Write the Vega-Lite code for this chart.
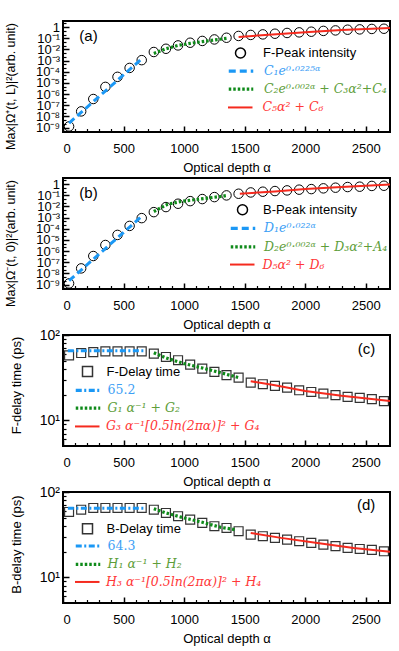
{
  "$schema": "https://vega.github.io/schema/vega-lite/v6.json",
  "background": "white",
  "padding": {"left": 3, "top": 20, "right": 0, "bottom": 0},
  "config": {
    "font": "Liberation Sans",
    "view": {"stroke": "black", "strokeWidth": 2},
    "axis": {"grid": false, "domain": false, "tickColor": "black", "labelColor": "black", "titleColor": "black", "labelFont": "Liberation Sans", "titleFont": "Liberation Sans", "titleFontWeight": "normal", "labelOverlap": false},
    "legend": {"title": null, "orient": "none", "padding": 0, "symbolSize": 100, "labelFontSize": 13}
  },
  "datasets": {
    "a": [
      {"x": 50, "y": 1.26e-9, "s": "p"}, {"x": 150, "y": 2.8e-8, "s": "p"}, {"x": 250, "y": 3.6e-7, "s": "p"}, {"x": 350, "y": 4.4e-6, "s": "p"}, {"x": 450, "y": 3.5e-5, "s": "p"}, {"x": 550, "y": 2.2e-4, "s": "p"}, {"x": 650, "y": 1.1e-3, "s": "p"}, {"x": 750, "y": 5.9e-3, "s": "p"}, {"x": 850, "y": 1.15e-2, "s": "p"}, {"x": 950, "y": 2.3e-2, "s": "p"}, {"x": 1050, "y": 4.0e-2, "s": "p"}, {"x": 1150, "y": 5.8e-2, "s": "p"}, {"x": 1250, "y": 7.9e-2, "s": "p"}, {"x": 1350, "y": 0.112, "s": "p"}, {"x": 1450, "y": 0.162, "s": "p"}, {"x": 1550, "y": 0.2, "s": "p"}, {"x": 1650, "y": 0.224, "s": "p"}, {"x": 1750, "y": 0.257, "s": "p"}, {"x": 1850, "y": 0.3, "s": "p"}, {"x": 1950, "y": 0.34, "s": "p"}, {"x": 2050, "y": 0.39, "s": "p"}, {"x": 2150, "y": 0.46, "s": "p"}, {"x": 2250, "y": 0.51, "s": "p"}, {"x": 2350, "y": 0.59, "s": "p"}, {"x": 2450, "y": 0.63, "s": "p"}, {"x": 2550, "y": 0.69, "s": "p"}, {"x": 2650, "y": 0.72, "s": "p"},
      {"x": 50, "y": 2.5e-9, "s": "f1"}, {"x": 660, "y": 1.8e-3, "s": "f1"},
      {"x": 750, "y": 4.4e-3, "s": "f2"}, {"x": 850, "y": 1.15e-2, "s": "f2"}, {"x": 950, "y": 2.3e-2, "s": "f2"}, {"x": 1050, "y": 3.5e-2, "s": "f2"}, {"x": 1150, "y": 5.0e-2, "s": "f2"}, {"x": 1250, "y": 7.1e-2, "s": "f2"}, {"x": 1350, "y": 9.8e-2, "s": "f2"},
      {"x": 1450, "y": 0.132, "s": "f3"}, {"x": 1700, "y": 0.21, "s": "f3"}, {"x": 2000, "y": 0.355, "s": "f3"}, {"x": 2300, "y": 0.56, "s": "f3"}, {"x": 2700, "y": 0.85, "s": "f3"}
    ],
    "b": [
      {"x": 50, "y": 1.26e-9, "s": "p"}, {"x": 150, "y": 2.8e-8, "s": "p"}, {"x": 250, "y": 3.6e-7, "s": "p"}, {"x": 350, "y": 3.5e-6, "s": "p"}, {"x": 450, "y": 2.8e-5, "s": "p"}, {"x": 550, "y": 1.8e-4, "s": "p"}, {"x": 650, "y": 9.0e-4, "s": "p"}, {"x": 750, "y": 3.1e-3, "s": "p"}, {"x": 850, "y": 8.8e-3, "s": "p"}, {"x": 950, "y": 1.75e-2, "s": "p"}, {"x": 1050, "y": 3.0e-2, "s": "p"}, {"x": 1150, "y": 4.6e-2, "s": "p"}, {"x": 1250, "y": 6.9e-2, "s": "p"}, {"x": 1350, "y": 9.8e-2, "s": "p"}, {"x": 1450, "y": 0.138, "s": "p"}, {"x": 1550, "y": 0.18, "s": "p"}, {"x": 1650, "y": 0.21, "s": "p"}, {"x": 1750, "y": 0.24, "s": "p"}, {"x": 1850, "y": 0.275, "s": "p"}, {"x": 1950, "y": 0.32, "s": "p"}, {"x": 2050, "y": 0.36, "s": "p"}, {"x": 2150, "y": 0.42, "s": "p"}, {"x": 2250, "y": 0.48, "s": "p"}, {"x": 2350, "y": 0.55, "s": "p"}, {"x": 2450, "y": 0.59, "s": "p"}, {"x": 2550, "y": 0.69, "s": "p"}, {"x": 2650, "y": 0.72, "s": "p"},
      {"x": 50, "y": 2.2e-9, "s": "f1"}, {"x": 655, "y": 1.45e-3, "s": "f1"},
      {"x": 750, "y": 3.5e-3, "s": "f2"}, {"x": 865, "y": 1.6e-2, "s": "f2"}, {"x": 975, "y": 2.8e-2, "s": "f2"}, {"x": 1085, "y": 4.0e-2, "s": "f2"}, {"x": 1195, "y": 5.6e-2, "s": "f2"}, {"x": 1305, "y": 7.9e-2, "s": "f2"}, {"x": 1360, "y": 9.8e-2, "s": "f2"},
      {"x": 1460, "y": 0.138, "s": "f3"}, {"x": 1750, "y": 0.22, "s": "f3"}, {"x": 2000, "y": 0.36, "s": "f3"}, {"x": 2300, "y": 0.55, "s": "f3"}, {"x": 2700, "y": 0.95, "s": "f3"}
    ],
    "c": [
      {"x": 50, "y": 57.8, "s": "p"}, {"x": 150, "y": 61.5, "s": "p"}, {"x": 250, "y": 63, "s": "p"}, {"x": 350, "y": 64.4, "s": "p"}, {"x": 450, "y": 64.4, "s": "p"}, {"x": 550, "y": 64.4, "s": "p"}, {"x": 650, "y": 64.4, "s": "p"}, {"x": 750, "y": 60.5, "s": "p"}, {"x": 850, "y": 55.3, "s": "p"}, {"x": 950, "y": 50.6, "s": "p"}, {"x": 1050, "y": 45, "s": "p"}, {"x": 1150, "y": 40.4, "s": "p"}, {"x": 1250, "y": 37, "s": "p"}, {"x": 1350, "y": 33.8, "s": "p"}, {"x": 1450, "y": 31.7, "s": "p"}, {"x": 1550, "y": 27.7, "s": "p"}, {"x": 1650, "y": 26.5, "s": "p"}, {"x": 1750, "y": 25.3, "s": "p"}, {"x": 1850, "y": 24.2, "s": "p"}, {"x": 1950, "y": 22.5, "s": "p"}, {"x": 2050, "y": 21.5, "s": "p"}, {"x": 2150, "y": 20.6, "s": "p"}, {"x": 2250, "y": 19.7, "s": "p"}, {"x": 2350, "y": 18.8, "s": "p"}, {"x": 2450, "y": 18.3, "s": "p"}, {"x": 2550, "y": 17.7, "s": "p"}, {"x": 2650, "y": 16.8, "s": "p"},
      {"x": 40, "y": 65.2, "s": "f1"}, {"x": 670, "y": 65.2, "s": "f1"},
      {"x": 750, "y": 62, "s": "f2"}, {"x": 850, "y": 53.8, "s": "f2"}, {"x": 1000, "y": 46.2, "s": "f2"}, {"x": 1150, "y": 41.1, "s": "f2"}, {"x": 1300, "y": 36.2, "s": "f2"}, {"x": 1460, "y": 31.4, "s": "f2"},
      {"x": 1550, "y": 28.7, "s": "f3"}, {"x": 1750, "y": 25.8, "s": "f3"}, {"x": 2000, "y": 22.1, "s": "f3"}, {"x": 2300, "y": 19.4, "s": "f3"}, {"x": 2700, "y": 16.8, "s": "f3"}
    ],
    "d": [
      {"x": 50, "y": 58.3, "s": "p"}, {"x": 150, "y": 62, "s": "p"}, {"x": 250, "y": 65, "s": "p"}, {"x": 350, "y": 65, "s": "p"}, {"x": 450, "y": 65, "s": "p"}, {"x": 550, "y": 65, "s": "p"}, {"x": 650, "y": 65, "s": "p"}, {"x": 750, "y": 62, "s": "p"}, {"x": 850, "y": 56.8, "s": "p"}, {"x": 950, "y": 52, "s": "p"}, {"x": 1050, "y": 47.5, "s": "p"}, {"x": 1150, "y": 43.4, "s": "p"}, {"x": 1250, "y": 39.7, "s": "p"}, {"x": 1350, "y": 37.9, "s": "p"}, {"x": 1450, "y": 34.7, "s": "p"}, {"x": 1550, "y": 31.7, "s": "p"}, {"x": 1650, "y": 30.3, "s": "p"}, {"x": 1750, "y": 29, "s": "p"}, {"x": 1850, "y": 27.7, "s": "p"}, {"x": 1950, "y": 26.5, "s": "p"}, {"x": 2050, "y": 25.3, "s": "p"}, {"x": 2150, "y": 24.2, "s": "p"}, {"x": 2250, "y": 23.2, "s": "p"}, {"x": 2350, "y": 22.1, "s": "p"}, {"x": 2450, "y": 21.5, "s": "p"}, {"x": 2550, "y": 21, "s": "p"}, {"x": 2650, "y": 20.2, "s": "p"},
      {"x": 40, "y": 64.3, "s": "f1"}, {"x": 670, "y": 64.3, "s": "f1"},
      {"x": 750, "y": 63.8, "s": "f2"}, {"x": 850, "y": 56.8, "s": "f2"}, {"x": 1000, "y": 49.7, "s": "f2"}, {"x": 1150, "y": 44.2, "s": "f2"}, {"x": 1300, "y": 38.6, "s": "f2"}, {"x": 1420, "y": 36.2, "s": "f2"},
      {"x": 1550, "y": 33.1, "s": "f3"}, {"x": 1800, "y": 29, "s": "f3"}, {"x": 2100, "y": 25.3, "s": "f3"}, {"x": 2400, "y": 22.1, "s": "f3"}, {"x": 2700, "y": 19.9, "s": "f3"}
    ]
  },
  "spacing": 46,
  "bounds": "flush",
  "resolve": {"scale": {"color": "independent", "strokeDash": "independent", "opacity": "independent", "strokeWidth": "independent"}, "legend": {"color": "independent", "strokeDash": "independent", "opacity": "independent", "strokeWidth": "independent"}},
  "vconcat": [
    {
      "width": 327, "height": 111,
      "data": {"name": "a"},
      "layer": [
        {
          "transform": [{"filter": "datum.s === 'p'"}],
          "mark": {"type": "point", "shape": "circle", "filled": false, "size": 90, "strokeWidth": 1, "opacity": 1},
          "encoding": {
            "x": {"field": "x", "type": "quantitative", "scale": {"domain": [0, 2700], "nice": false, "zero": false},
              "axis": {"orient": "bottom", "values": [0, 500, 1000, 1500, 2000, 2500], "format": "d", "tickSize": -6, "tickWidth": 1.5, "labelFontSize": 13, "labelPadding": 16, "title": "Optical depth  α", "titleFontSize": 13, "titlePadding": 6}},
            "y": {"field": "y", "type": "quantitative", "scale": {"type": "log", "domain": [3.98e-10, 3.55], "nice": false},
              "axis": {"orient": "left", "values": [1e-9, 1e-8, 1e-7, 1e-6, 1e-5, 1e-4, 1e-3, 1e-2, 1e-1, 1], "tickSize": -6, "tickWidth": 1.5, "labelFontSize": 13, "labelPadding": 9.5,
                "labelExpr": "['1','10⁻¹','10⁻²','10⁻³','10⁻⁴','10⁻⁵','10⁻⁶','10⁻⁷','10⁻⁸','10⁻⁹'][round(-log(datum.value)/LN10)]",
                "title": "Max|Ω⁺(t, L)|²(arb. unit)", "titleFontSize": 12.5, "titleX": -48.3, "titleY": 65, "titleAngle": 270, "titleAlign": "center", "titleBaseline": "alphabetic"}},
            "color": {"field": "s", "type": "nominal", "scale": {"domain": ["p"], "range": ["black"]},
              "legend": {"legendX": 171, "legendY": 25.5, "labelOffset": 16, "labelColor": "black", "labelExpr": "'F-Peak intensity'"}}
          }
        },
        {
          "transform": [{"filter": "datum.s === 'f1'"}],
          "mark": {"type": "line", "strokeWidth": 3, "color": "#1b98f5"},
          "encoding": {
            "x": {"field": "x", "type": "quantitative", "axis": {"orient": "bottom", "values": [100, 200, 300, 400, 600, 700, 800, 900, 1100, 1200, 1300, 1400, 1600, 1700, 1800, 1900, 2100, 2200, 2300, 2400, 2600], "tickSize": -3.5, "tickWidth": 1.2, "labels": false, "title": null}},
            "y": {"field": "y", "type": "quantitative", "axis": {"orient": "left", "values": [4.642e-10, 2.154e-9, 4.642e-9, 2.154e-8, 4.642e-8, 2.154e-7, 4.642e-7, 2.154e-6, 4.642e-6, 2.154e-5, 4.642e-5, 2.154e-4, 4.642e-4, 2.154e-3, 4.642e-3, 0.02154, 0.04642, 0.2154, 0.4642, 2.154], "tickSize": -3, "tickWidth": 1.2, "labels": false, "title": null}},
            "strokeDash": {"field": "s", "type": "nominal", "scale": {"domain": ["f1"], "range": [[7, 4]]},
              "legend": {"legendX": 171, "legendY": 43.2, "labelOffset": 16, "symbolType": "M-2.45,0H2.45", "symbolStrokeColor": "#1b98f5", "symbolStrokeWidth": 3.2, "labelColor": "#3da0f5", "labelFont": "DejaVu Serif", "labelFontStyle": "italic", "labelFontSize": 12.5, "labelExpr": "'C₁e⁰·⁰²²⁵ᵅ'"}}
          }
        },
        {
          "transform": [{"filter": "datum.s === 'f2'"}],
          "mark": {"type": "line", "strokeDash": [2.5, 2], "strokeWidth": 3.2, "color": "#0f8a1a"},
          "encoding": {
            "x": {"field": "x", "type": "quantitative", "axis": null},
            "y": {"field": "y", "type": "quantitative", "axis": null},
            "opacity": {"field": "s", "type": "nominal", "scale": {"type": "ordinal", "domain": ["f2"], "range": [1]},
              "legend": {"legendX": 171, "legendY": 61.2, "labelOffset": 16, "symbolType": "M-2.45,0H2.45", "symbolStrokeColor": "#0f8a1a", "symbolStrokeWidth": 3.2, "symbolDash": [2.5, 2], "labelColor": "#5e9e3a", "labelFont": "DejaVu Serif", "labelFontStyle": "italic", "labelFontSize": 12.5, "labelExpr": "'C₂e⁰·⁰⁰²ᵅ + C₃α²+C₄'"}}
          }
        },
        {
          "transform": [{"filter": "datum.s === 'f3'"}],
          "mark": {"type": "line", "color": "#f52a1e"},
          "encoding": {
            "x": {"field": "x", "type": "quantitative", "axis": null},
            "y": {"field": "y", "type": "quantitative", "axis": null},
            "strokeWidth": {"field": "s", "type": "nominal", "scale": {"type": "ordinal", "domain": ["f3"], "range": [2]},
              "legend": {"legendX": 171, "legendY": 80.2, "labelOffset": 16, "symbolType": "M-2.45,0H2.45", "symbolStrokeColor": "#f52a1e", "labelColor": "#ff3838", "labelFont": "DejaVu Serif", "labelFontStyle": "italic", "labelFontSize": 12.5, "labelExpr": "'C₅α² + C₆'"}}
          }
        },
        {
          "data": {"values": [{"t": "(a)"}]},
          "mark": {"type": "text", "align": "left", "baseline": "alphabetic", "fontSize": 15, "font": "Liberation Sans", "color": "black"},
          "encoding": {
            "x": {"datum": 135, "type": "quantitative", "axis": null},
            "y": {"datum": 0.061, "type": "quantitative", "axis": null},
            "text": {"field": "t"}
          }
        }
      ],
      "resolve": {"axis": {"x": "independent", "y": "independent"}}
    },
    {
      "width": 327, "height": 111,
      "data": {"name": "b"},
      "layer": [
        {
          "transform": [{"filter": "datum.s === 'p'"}],
          "mark": {"type": "point", "shape": "circle", "filled": false, "size": 90, "strokeWidth": 1, "opacity": 1},
          "encoding": {
            "x": {"field": "x", "type": "quantitative", "scale": {"domain": [0, 2700], "nice": false, "zero": false},
              "axis": {"orient": "bottom", "values": [0, 500, 1000, 1500, 2000, 2500], "format": "d", "tickSize": -6, "tickWidth": 1.5, "labelFontSize": 13, "labelPadding": 16, "title": "Optical depth  α", "titleFontSize": 13, "titlePadding": 6}},
            "y": {"field": "y", "type": "quantitative", "scale": {"type": "log", "domain": [3.98e-10, 3.55], "nice": false},
              "axis": {"orient": "left", "values": [1e-9, 1e-8, 1e-7, 1e-6, 1e-5, 1e-4, 1e-3, 1e-2, 1e-1, 1], "tickSize": -6, "tickWidth": 1.5, "labelFontSize": 13, "labelPadding": 9.5,
                "labelExpr": "['1','10⁻¹','10⁻²','10⁻³','10⁻⁴','10⁻⁵','10⁻⁶','10⁻⁷','10⁻⁸','10⁻⁹'][round(-log(datum.value)/LN10)]",
                "title": "Max|Ω⁻(t, 0)|²(arb. unit)", "titleFontSize": 12.5, "titleX": -48.3, "titleY": 65, "titleAngle": 270, "titleAlign": "center", "titleBaseline": "alphabetic"}},
            "color": {"field": "s", "type": "nominal", "scale": {"domain": ["p"], "range": ["black"]},
              "legend": {"legendX": 173, "legendY": 25.3, "labelOffset": 14, "labelColor": "black", "labelExpr": "'B-Peak intensity'"}}
          }
        },
        {
          "transform": [{"filter": "datum.s === 'f1'"}],
          "mark": {"type": "line", "strokeWidth": 3, "color": "#1b98f5"},
          "encoding": {
            "x": {"field": "x", "type": "quantitative", "axis": {"orient": "bottom", "values": [100, 200, 300, 400, 600, 700, 800, 900, 1100, 1200, 1300, 1400, 1600, 1700, 1800, 1900, 2100, 2200, 2300, 2400, 2600], "tickSize": -3.5, "tickWidth": 1.2, "labels": false, "title": null}},
            "y": {"field": "y", "type": "quantitative", "axis": {"orient": "left", "values": [4.642e-10, 2.154e-9, 4.642e-9, 2.154e-8, 4.642e-8, 2.154e-7, 4.642e-7, 2.154e-6, 4.642e-6, 2.154e-5, 4.642e-5, 2.154e-4, 4.642e-4, 2.154e-3, 4.642e-3, 0.02154, 0.04642, 0.2154, 0.4642, 2.154], "tickSize": -3, "tickWidth": 1.2, "labels": false, "title": null}},
            "strokeDash": {"field": "s", "type": "nominal", "scale": {"domain": ["f1"], "range": [[7, 4]]},
              "legend": {"legendX": 173, "legendY": 43.3, "labelOffset": 14, "symbolType": "M-2.45,0H2.45", "symbolStrokeColor": "#1b98f5", "symbolStrokeWidth": 3.2, "labelColor": "#3da0f5", "labelFont": "DejaVu Serif", "labelFontStyle": "italic", "labelFontSize": 12.5, "labelExpr": "'D₁e⁰·⁰²²ᵅ'"}}
          }
        },
        {
          "transform": [{"filter": "datum.s === 'f2'"}],
          "mark": {"type": "line", "strokeDash": [2.5, 2], "strokeWidth": 3.2, "color": "#0f8a1a"},
          "encoding": {
            "x": {"field": "x", "type": "quantitative", "axis": null},
            "y": {"field": "y", "type": "quantitative", "axis": null},
            "opacity": {"field": "s", "type": "nominal", "scale": {"type": "ordinal", "domain": ["f2"], "range": [1]},
              "legend": {"legendX": 173, "legendY": 61.8, "labelOffset": 14, "symbolType": "M-2.45,0H2.45", "symbolStrokeColor": "#0f8a1a", "symbolStrokeWidth": 3.2, "symbolDash": [2.5, 2], "labelColor": "#5e9e3a", "labelFont": "DejaVu Serif", "labelFontStyle": "italic", "labelFontSize": 12.5, "labelExpr": "'D₂e⁰·⁰⁰²ᵅ + D₃α²+A₄'"}}
          }
        },
        {
          "transform": [{"filter": "datum.s === 'f3'"}],
          "mark": {"type": "line", "color": "#f52a1e"},
          "encoding": {
            "x": {"field": "x", "type": "quantitative", "axis": null},
            "y": {"field": "y", "type": "quantitative", "axis": null},
            "strokeWidth": {"field": "s", "type": "nominal", "scale": {"type": "ordinal", "domain": ["f3"], "range": [2]},
              "legend": {"legendX": 173, "legendY": 80.3, "labelOffset": 14, "symbolType": "M-2.45,0H2.45", "symbolStrokeColor": "#f52a1e", "labelColor": "#ff3838", "labelFont": "DejaVu Serif", "labelFontStyle": "italic", "labelFontSize": 12.5, "labelExpr": "'D₅α² + D₆'"}}
          }
        },
        {
          "data": {"values": [{"t": "(b)"}]},
          "mark": {"type": "text", "align": "left", "baseline": "alphabetic", "fontSize": 15, "font": "Liberation Sans", "color": "black"},
          "encoding": {
            "x": {"datum": 135, "type": "quantitative", "axis": null},
            "y": {"datum": 0.061, "type": "quantitative", "axis": null},
            "text": {"field": "t"}
          }
        }
      ],
      "resolve": {"axis": {"x": "independent", "y": "independent"}}
    },
    {
      "width": 327, "height": 111,
      "data": {"name": "c"},
      "layer": [
        {
          "transform": [{"filter": "datum.s === 'p'"}],
          "mark": {"type": "point", "shape": "square", "filled": false, "size": 80, "strokeWidth": 1.2, "opacity": 1},
          "encoding": {
            "x": {"field": "x", "type": "quantitative", "scale": {"domain": [0, 2700], "nice": false, "zero": false},
              "axis": {"orient": "bottom", "values": [0, 500, 1000, 1500, 2000, 2500], "format": "d", "tickSize": -6, "tickWidth": 1.5, "labelFontSize": 13, "labelPadding": 16, "title": "Optical depth  α", "titleFontSize": 13, "titlePadding": 6}},
            "y": {"field": "y", "type": "quantitative", "scale": {"type": "log", "domain": [5, 100], "nice": false},
              "axis": {"orient": "left", "values": [10, 100], "tickSize": -6, "tickWidth": 1.5, "labelFontSize": 14, "labelPadding": 9.5,
                "labelExpr": "datum.value == 100 ? '10²' : '10¹'",
                "title": "F-delay time (ps)", "titleFontSize": 13, "titleX": -42.5, "titleY": 50, "titleAngle": 270, "titleAlign": "center", "titleBaseline": "alphabetic"}},
            "color": {"field": "s", "type": "nominal", "scale": {"domain": ["p"], "range": ["#333333"]},
              "legend": {"legendX": 18, "legendY": 30, "labelOffset": 12.5, "labelColor": "black", "labelExpr": "'F-Delay time'"}}
          }
        },
        {
          "transform": [{"filter": "datum.s === 'f1'"}],
          "mark": {"type": "line", "strokeWidth": 3, "color": "#1b98f5"},
          "encoding": {
            "x": {"field": "x", "type": "quantitative", "axis": {"orient": "bottom", "values": [100, 200, 300, 400, 600, 700, 800, 900, 1100, 1200, 1300, 1400, 1600, 1700, 1800, 1900, 2100, 2200, 2300, 2400, 2600], "tickSize": -3.5, "tickWidth": 1.2, "labels": false, "title": null}},
            "y": {"field": "y", "type": "quantitative", "axis": {"orient": "left", "values": [6, 7, 8, 9, 20, 30, 40, 50, 60, 70, 80, 90], "tickSize": -3, "tickWidth": 1.2, "labels": false, "title": null}},
            "strokeDash": {"field": "s", "type": "nominal", "scale": {"domain": ["f1"], "range": [[6, 2.5, 2, 2.5]]},
              "legend": {"legendX": 18, "legendY": 48.3, "labelOffset": 12.5, "symbolType": "M-2.45,0H2.45", "symbolStrokeColor": "#1b98f5", "symbolStrokeWidth": 3.2, "labelColor": "#3da0f5", "labelFont": "DejaVu Serif", "labelFontSize": 12.5, "labelExpr": "'65.2'"}}
          }
        },
        {
          "transform": [{"filter": "datum.s === 'f2'"}],
          "mark": {"type": "line", "strokeDash": [2.5, 2], "strokeWidth": 3.2, "color": "#0f8a1a"},
          "encoding": {
            "x": {"field": "x", "type": "quantitative", "axis": null},
            "y": {"field": "y", "type": "quantitative", "axis": null},
            "opacity": {"field": "s", "type": "nominal", "scale": {"type": "ordinal", "domain": ["f2"], "range": [1]},
              "legend": {"legendX": 18, "legendY": 66.2, "labelOffset": 12.5, "symbolType": "M-2.45,0H2.45", "symbolStrokeColor": "#0f8a1a", "symbolStrokeWidth": 3.2, "symbolDash": [2.5, 2], "labelColor": "#5e9e3a", "labelFont": "DejaVu Serif", "labelFontStyle": "italic", "labelFontSize": 12.5, "labelExpr": "'G₁ α⁻¹ + G₂'"}}
          }
        },
        {
          "transform": [{"filter": "datum.s === 'f3'"}],
          "mark": {"type": "line", "color": "#f52a1e"},
          "encoding": {
            "x": {"field": "x", "type": "quantitative", "axis": null},
            "y": {"field": "y", "type": "quantitative", "axis": null},
            "strokeWidth": {"field": "s", "type": "nominal", "scale": {"type": "ordinal", "domain": ["f3"], "range": [2]},
              "legend": {"legendX": 18, "legendY": 85.2, "labelOffset": 12.5, "symbolType": "M-2.45,0H2.45", "symbolStrokeColor": "#f52a1e", "labelColor": "#ff3838", "labelFont": "DejaVu Serif", "labelFontStyle": "italic", "labelFontSize": 12.5, "labelExpr": "'G₃ α⁻¹[0.5ln(2πα)]² + G₄'"}}
          }
        },
        {
          "data": {"values": [{"t": "(c)"}]},
          "mark": {"type": "text", "align": "right", "baseline": "alphabetic", "fontSize": 15, "font": "Liberation Sans", "color": "black"},
          "encoding": {
            "x": {"datum": 2578, "type": "quantitative", "axis": null},
            "y": {"datum": 60, "type": "quantitative", "axis": null},
            "text": {"field": "t"}
          }
        }
      ],
      "resolve": {"axis": {"x": "independent", "y": "independent"}}
    },
    {
      "width": 327, "height": 111,
      "data": {"name": "d"},
      "layer": [
        {
          "transform": [{"filter": "datum.s === 'p'"}],
          "mark": {"type": "point", "shape": "square", "filled": false, "size": 80, "strokeWidth": 1.2, "opacity": 1},
          "encoding": {
            "x": {"field": "x", "type": "quantitative", "scale": {"domain": [0, 2700], "nice": false, "zero": false},
              "axis": {"orient": "bottom", "values": [0, 500, 1000, 1500, 2000, 2500], "format": "d", "tickSize": -6, "tickWidth": 1.5, "labelFontSize": 13, "labelPadding": 16, "title": "Optical depth  α", "titleFontSize": 13, "titlePadding": 6}},
            "y": {"field": "y", "type": "quantitative", "scale": {"type": "log", "domain": [5, 100], "nice": false},
              "axis": {"orient": "left", "values": [10, 100], "tickSize": -6, "tickWidth": 1.5, "labelFontSize": 14, "labelPadding": 9.5,
                "labelExpr": "datum.value == 100 ? '10²' : '10¹'",
                "title": "B-delay time (ps)", "titleFontSize": 13, "titleX": -43, "titleY": 52, "titleAngle": 270, "titleAlign": "center", "titleBaseline": "alphabetic"}},
            "color": {"field": "s", "type": "nominal", "scale": {"domain": ["p"], "range": ["#333333"]},
              "legend": {"legendX": 18, "legendY": 30.3, "labelOffset": 12.5, "labelColor": "black", "labelExpr": "'B-Delay time'"}}
          }
        },
        {
          "transform": [{"filter": "datum.s === 'f1'"}],
          "mark": {"type": "line", "strokeWidth": 3, "color": "#1b98f5"},
          "encoding": {
            "x": {"field": "x", "type": "quantitative", "axis": {"orient": "bottom", "values": [100, 200, 300, 400, 600, 700, 800, 900, 1100, 1200, 1300, 1400, 1600, 1700, 1800, 1900, 2100, 2200, 2300, 2400, 2600], "tickSize": -3.5, "tickWidth": 1.2, "labels": false, "title": null}},
            "y": {"field": "y", "type": "quantitative", "axis": {"orient": "left", "values": [6, 7, 8, 9, 20, 30, 40, 50, 60, 70, 80, 90], "tickSize": -3, "tickWidth": 1.2, "labels": false, "title": null}},
            "strokeDash": {"field": "s", "type": "nominal", "scale": {"domain": ["f1"], "range": [[6, 2.5, 2, 2.5]]},
              "legend": {"legendX": 18, "legendY": 47, "labelOffset": 12.5, "symbolType": "M-2.45,0H2.45", "symbolStrokeColor": "#1b98f5", "symbolStrokeWidth": 3.2, "labelColor": "#3da0f5", "labelFont": "DejaVu Serif", "labelFontSize": 12.5, "labelExpr": "'64.3'"}}
          }
        },
        {
          "transform": [{"filter": "datum.s === 'f2'"}],
          "mark": {"type": "line", "strokeDash": [2.5, 2], "strokeWidth": 3.2, "color": "#0f8a1a"},
          "encoding": {
            "x": {"field": "x", "type": "quantitative", "axis": null},
            "y": {"field": "y", "type": "quantitative", "axis": null},
            "opacity": {"field": "s", "type": "nominal", "scale": {"type": "ordinal", "domain": ["f2"], "range": [1]},
              "legend": {"legendX": 18, "legendY": 65.3, "labelOffset": 12.5, "symbolType": "M-2.45,0H2.45", "symbolStrokeColor": "#0f8a1a", "symbolStrokeWidth": 3.2, "symbolDash": [2.5, 2], "labelColor": "#5e9e3a", "labelFont": "DejaVu Serif", "labelFontStyle": "italic", "labelFontSize": 12.5, "labelExpr": "'H₁ α⁻¹ + H₂'"}}
          }
        },
        {
          "transform": [{"filter": "datum.s === 'f3'"}],
          "mark": {"type": "line", "color": "#f52a1e"},
          "encoding": {
            "x": {"field": "x", "type": "quantitative", "axis": null},
            "y": {"field": "y", "type": "quantitative", "axis": null},
            "strokeWidth": {"field": "s", "type": "nominal", "scale": {"type": "ordinal", "domain": ["f3"], "range": [2]},
              "legend": {"legendX": 18, "legendY": 83.7, "labelOffset": 12.5, "symbolType": "M-2.45,0H2.45", "symbolStrokeColor": "#f52a1e", "labelColor": "#ff3838", "labelFont": "DejaVu Serif", "labelFontStyle": "italic", "labelFontSize": 12.5, "labelExpr": "'H₃ α⁻¹[0.5ln(2πα)]² + H₄'"}}
          }
        },
        {
          "data": {"values": [{"t": "(d)"}]},
          "mark": {"type": "text", "align": "right", "baseline": "alphabetic", "fontSize": 15, "font": "Liberation Sans", "color": "black"},
          "encoding": {
            "x": {"datum": 2578, "type": "quantitative", "axis": null},
            "y": {"datum": 62, "type": "quantitative", "axis": null},
            "text": {"field": "t"}
          }
        }
      ],
      "resolve": {"axis": {"x": "independent", "y": "independent"}}
    }
  ]
}
